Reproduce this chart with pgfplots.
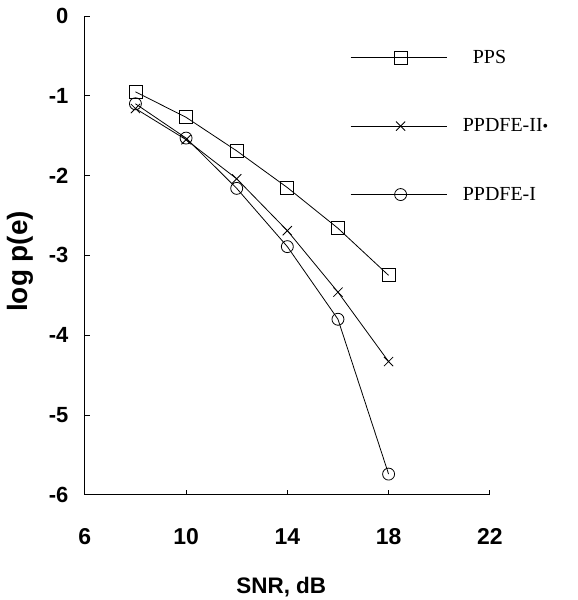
\documentclass[border=0pt]{standalone}
\usepackage{fontspec}
\setmainfont{Liberation Serif}
\setsansfont{Liberation Sans}
\usepackage{pgfplots}
\pgfplotsset{compat=1.18}

\pgfplotstableread{
x    y
8   -0.95
10  -1.27
12  -1.69
14  -2.15
16  -2.66
18  -3.25
}\pps
\pgfplotstableread{
x    y
8   -1.16
10  -1.55
12  -2.04
14  -2.69
16  -3.46
18  -4.33
}\ppdfeII
\pgfplotstableread{
x    y
8   -1.10
10  -1.53
12  -2.16
14  -2.89
16  -3.80
18  -5.74
}\ppdfeI

\begin{document}
\begin{tikzpicture}
\begin{axis}[
  scale only axis,
  width=406pt, height=480pt,
  xmin=6, xmax=22, ymin=-6, ymax=0,
  axis x line=bottom, axis y line=left,
  axis line style={-, line width=1.1pt},
  xtick={6,10,14,18,22},
  ytick={-6,-5,-4,-3,-2,-1,0},
  tick align=inside,
  major tick length=5pt,
  tick style={line width=0.8pt, black},
  /pgf/number format/assume math mode=true,
  xticklabel style={font=\sffamily\bfseries\fontsize{23}{23}\selectfont, yshift=-30pt},
  yticklabel style={font=\sffamily\bfseries\fontsize{22}{22}\selectfont, xshift=-13pt},
  xlabel={SNR, dB},
  ylabel={log p(e)},
  every axis x label/.style={at={(axis description cs:0.485,-0.192)}, anchor=center,
    font=\sffamily\bfseries\fontsize{22.5}{22.5}\selectfont},
  every axis y label/.style={at={(axis description cs:-0.160,0.4875)}, anchor=center, rotate=90,
    font=\sffamily\bfseries\fontsize{28}{28}\selectfont},
  legend style={draw=none, fill=none, at={(axis description cs:0.655,0.933)}, anchor=north west,
    font=\rmfamily\fontsize{20}{20}\selectfont, row sep=50pt, inner sep=0pt,
    nodes={inner sep=2pt}},
  legend cell align=left,
  legend image code/.code={\draw[#1, mark repeat=2, mark phase=2]
    plot coordinates {(0pt,0pt) (50pt,0pt) (96pt,0pt)};},
  every axis plot/.append style={black, line width=0.8pt, mark options={solid, line width=0.8pt, fill=white}},
]
\addplot[mark=square, mark size=6.5pt] table[x=x, y=y] {\pps};
\addlegendentry{\hspace{24pt}PPS}
\addplot[mark=x, mark size=6.5pt] table[x=x, y=y] {\ppdfeII};
\addlegendentry{\hspace{14pt}PPDFE-II{\fontsize{16}{16}\selectfont •}}
\addplot[mark=o, mark size=6pt] table[x=x, y=y] {\ppdfeI};
\addlegendentry{\hspace{14pt}PPDFE-I}
\end{axis}
\path (-85pt,-104pt) rectangle (494pt,496pt);
\end{tikzpicture}
\end{document}
